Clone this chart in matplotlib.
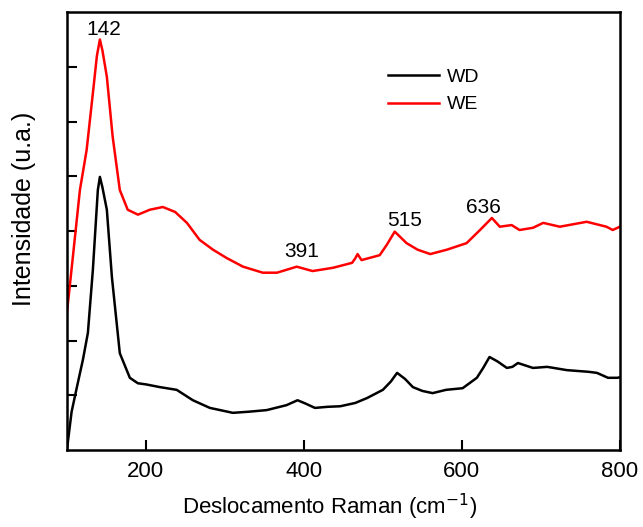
import matplotlib
matplotlib.use('Agg')
from matplotlib import pyplot as plt

plt.rcParams['font.family'] = ['Liberation Sans', 'DejaVu Sans']

# Raman shift (cm-1) and intensity (a.u.)
wd_x = [100, 106, 112.7, 120.3, 126.6, 132.9, 139.2, 141.8, 145, 150.6, 157, 167, 179.7, 189.9,
        200, 217.7, 239, 259.5, 281, 294, 310, 330, 353, 378, 392, 402, 414, 430, 446, 465, 480,
        500, 510, 518, 528, 538, 550, 563, 580, 601, 619, 627, 635, 645, 657, 664, 671, 690,
        708, 733, 760, 771, 785, 797, 800]
wd_y = [0.0, 0.7, 1.15, 1.65, 2.14, 3.29, 4.75, 4.99, 4.80, 4.39, 3.16, 1.77, 1.32, 1.22,
        1.20, 1.15, 1.10, 0.91, 0.77, 0.73, 0.68, 0.70, 0.73, 0.82, 0.91, 0.85, 0.77, 0.79, 0.80, 0.86, 0.95,
        1.10, 1.25, 1.41, 1.30, 1.15, 1.08, 1.04, 1.10, 1.13, 1.32, 1.50, 1.70, 1.62, 1.50, 1.52, 1.59, 1.50,
        1.52, 1.46, 1.43, 1.41, 1.32, 1.32, 1.33]

we_x = [100, 107.6, 116.5, 125, 133, 138, 141.8, 145, 150.6, 158, 167, 177, 190, 205, 221.5,
        237, 252, 268, 285, 302, 323, 348, 366, 391, 411, 437, 461, 465, 468, 473, 496, 505,
        515, 530, 544, 560, 581, 606, 623, 638, 648, 663, 673, 690, 703, 724, 758, 783, 791, 800]
we_y = [2.50, 3.53, 4.75, 5.48, 6.53, 7.20, 7.50, 7.30, 6.82, 5.72, 4.75, 4.39, 4.30, 4.39, 4.44,
        4.35, 4.15, 3.84, 3.66, 3.51, 3.35, 3.24, 3.24, 3.35, 3.27, 3.33, 3.42, 3.50, 3.58, 3.47, 3.56, 3.75,
        3.99, 3.78, 3.66, 3.58, 3.66, 3.78, 4.02, 4.24, 4.08, 4.11, 4.02, 4.06, 4.15, 4.08, 4.17, 4.08, 4.02, 4.08]

peak_labels = ['142', '391', '515', '636']
peak_pos = [(147, 7.68), (397, 3.62), (528, 4.19), (627, 4.44)]

fig = plt.figure(figsize=(6.43, 5.27), dpi=100)
ax = fig.add_axes([0.104, 0.146, 0.86, 0.831])

ax.plot(wd_x, wd_y, color='black', lw=1.8, label='WD')
ax.plot(we_x, we_y, color='red', lw=1.8, label='WE')

for lab, (px, py) in zip(peak_labels, peak_pos):
    ax.text(px, py, lab, ha='center', va='center', fontsize=15)

ax.set_xlim(100, 800)
ax.set_ylim(0, 8)
ax.set_xticks([200, 400, 600, 800])
ax.set_yticks([1, 2, 3, 4, 5, 6, 7])
ax.set_yticklabels([])
ax.tick_params(direction='in', length=7, width=1.5, labelsize=16, pad=8)
for s in ax.spines.values():
    s.set_linewidth(1.8)

ax.set_xlabel('Deslocamento Raman (cm$^{-1}$)', fontsize=16)
ax.set_ylabel('Intensidade (u.a.)', fontsize=18)
ax.xaxis.set_label_coords(0.475, -0.095)
ax.yaxis.set_label_coords(-0.055, 0.55)

ax.legend(loc='center', bbox_to_anchor=(0.663, 0.82), frameon=False, fontsize=14,
          handlelength=2.6, handletextpad=0.4, labelspacing=0.5)

fig.savefig('out.png', dpi=100)
